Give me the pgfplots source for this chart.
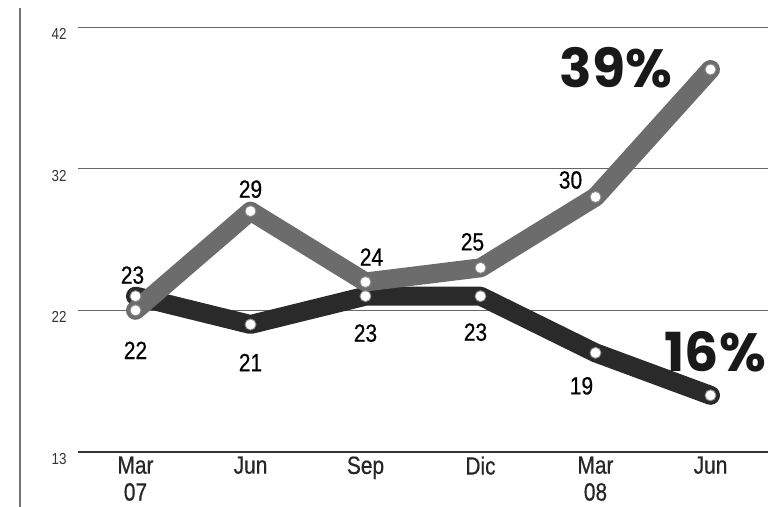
\documentclass[border=0pt]{standalone}
\usepackage{fontspec}
\setmainfont{Liberation Sans}[FakeStretch=0.84]
\newfontfamily\lblfont{Liberation Sans}[FakeStretch=0.84, FakeBold=0.5]
\newfontfamily\bigfont{Poppins}
\usepackage{pgfplots}
\pgfplotsset{compat=1.18}
\definecolor{lgray}{HTML}{6C6C6C}
\definecolor{dgray}{HTML}{2A2A2A}
\tikzset{lbl/.style={font=\lblfont\fontsize{25}{25}\selectfont, text=black}}
\begin{document}
\begin{tikzpicture}
\begin{axis}[
  scale only axis, width=690bp, height=425bp,
  xmin=-0.5, xmax=5.5, ymin=12, ymax=42,
  axis x line*=bottom, axis y line*=left,
  y axis line style={draw=none},
  x axis line style={draw=black!80, line width=1.4bp},
  ytick={12,22,32,42}, yticklabels={13,22,32,42},
  ymajorgrids, grid style={black!60, line width=0.8bp},
  y tick style={draw=none},
  yticklabel style={font=\fontsize{16}{16}\selectfont, text=black!80, xshift=-8bp, yshift=-7bp},
  xtick={0,1,2,3,4,5},
  xticklabels={{Mar\\07},Jun,Sep,Dic,{Mar\\08},Jun},
  xticklabel style={align=center, font=\lblfont\fontsize{25}{27}\selectfont, text=black!85, yshift=-1bp},
  x tick style={draw=none},
  extra x ticks={-0.5,0.5,1.5,2.5,3.5,4.5},
  extra x tick labels={},
  extra x tick style={tick align=inside, major tick length=9bp, tick style={draw=black!80, line width=1bp}, grid=none},
  clip=false,
]
\addplot[dgray, line width=19bp, line join=round, line cap=round,
  mark=*, mark size=5.5bp, mark options={fill=white, draw=black!45, line width=0.9bp}]
  coordinates {(0,23) (1,21) (2,23) (3,23) (4,19) (5,16)};
\addplot[lgray, line width=19bp, line join=round, line cap=round,
  mark=*, mark size=5.5bp, mark options={fill=white, draw=black!45, line width=0.9bp}]
  coordinates {(0,22) (1,29) (2,24) (3,25) (4,30) (5,39)};
% data labels (gray)
\node[lbl, yshift=-40bp] at (axis cs:0,22) {22};
\node[lbl, yshift=22bp] at (axis cs:1,29) {29};
\node[lbl, xshift=6bp, yshift=25bp] at (axis cs:2,24) {24};
\node[lbl, xshift=-8bp, yshift=26bp] at (axis cs:3,25) {25};
\node[lbl, xshift=-25bp, yshift=17bp] at (axis cs:4,30) {30};
% data labels (dark)
\node[lbl, xshift=-3bp, yshift=21bp] at (axis cs:0,23) {23};
\node[lbl, yshift=-38bp] at (axis cs:1,21) {21};
\node[lbl, yshift=-37bp] at (axis cs:2,23) {23};
\node[lbl, xshift=-5bp, yshift=-36bp] at (axis cs:3,23) {23};
\node[lbl, xshift=-14bp, yshift=-33bp] at (axis cs:4,19) {19};
% big labels
\node[font=\bigfont\bfseries\fontsize{54}{54}\selectfont, text=black!90] at (axis cs:4.18,39.1) {39\%};
\node[font=\bigfont\bfseries\fontsize{54}{54}\selectfont, text=black!90, anchor=west, inner sep=0pt] at (axis cs:4.6,19.06) {16\%};
\end{axis}
\draw[black!55, line width=1.2bp] ([xshift=-58bp, yshift=-55bp]current axis.south west) -- ([xshift=-58bp, yshift=19bp]current axis.north west);
\pgfresetboundingbox
\path ([xshift=-78bp, yshift=-55bp]current axis.south west) rectangle ([yshift=27bp]current axis.north east);
\end{tikzpicture}
\end{document}
